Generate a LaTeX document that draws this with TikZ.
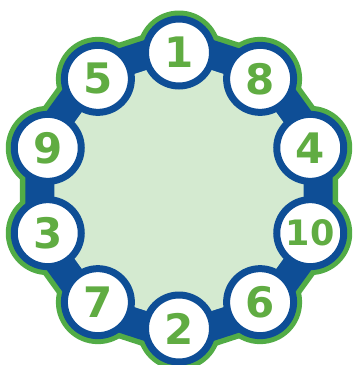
\documentclass[tikz,border=0pt]{standalone}
\usepackage{fontspec}
\setmainfont{DejaVu Sans}
\definecolor{ringblue}{RGB}{14,78,150}
\definecolor{ringgreen}{RGB}{82,172,70}
\definecolor{innergreen}{RGB}{212,234,208}
\definecolor{numgreen}{RGB}{96,172,66}
\tikzset{
  numcircle/.style={circle, fill=white, draw=ringblue, line width=7pt,
    minimum size=67pt, inner sep=0pt, text=numgreen,
    font=\bfseries\fontsize{42pt}{42pt}\selectfont},
  smallnum/.style={font=\bfseries\fontsize{35pt}{35pt}\selectfont}
}
\begin{document}
\begin{tikzpicture}[x=1pt,y=-1pt]
\useasboundingbox (0,0) rectangle (353,365);
\foreach \n/\a in {1/90,8/54,4/18,10/-18,6/-54,2/-90,7/-126,3/-162,9/162,5/126}{
  \coordinate (p\n) at ({179+138*cos(\a)},{190.5-138*sin(\a)});
  \coordinate (q\n) at ({179+131*cos(\a)},{190.5-131*sin(\a)});
}
% green outline
\draw[ringgreen, line width=56pt, line join=round]
  (p1)--(p8)--(p4)--(p10)--(p6)--(p2)--(p7)--(p3)--(p9)--(p5)--cycle;
\foreach \n in {1,8,4,10,6,2,7,3,9,5}{\fill[ringgreen] (p\n) circle (42pt);}
% blue band
\draw[ringblue, line width=45pt, line join=round]
  (p1)--(p8)--(p4)--(p10)--(p6)--(p2)--(p7)--(p3)--(p9)--(p5)--cycle;
% light interior
\fill[innergreen]
  (q1)--(q8)--(q4)--(q10)--(q6)--(q2)--(q7)--(q3)--(q9)--(q5)--cycle;
% number circles
\foreach \n in {1,8,4,6,2,7,3,9,5}{\node[numcircle] (c\n) at (p\n) {\n};}
\node[numcircle, smallnum] (c10) at (p10) {10};
\end{tikzpicture}
\end{document}
